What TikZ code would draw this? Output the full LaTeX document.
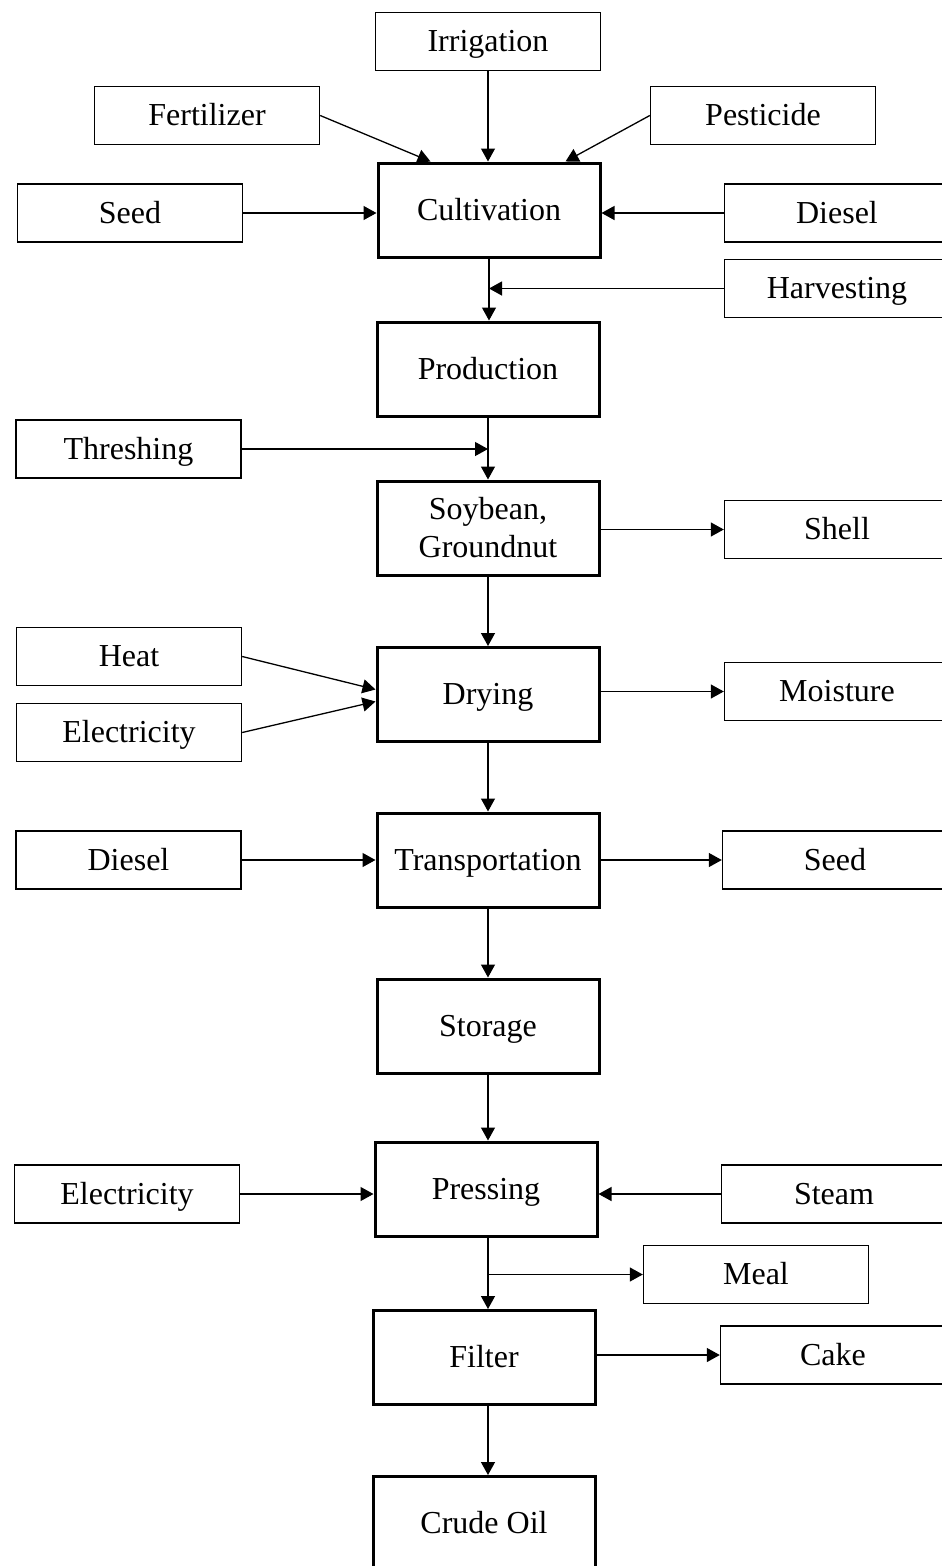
\documentclass[tikz,border=0pt]{standalone}
\usepackage{fontspec}
\setmainfont{Liberation Serif}
\usetikzlibrary{arrows.meta,calc}
\begin{document}
\begin{tikzpicture}[x=1pt,y=-1pt,
  every node/.style={font=\fontsize{32}{38}\selectfont},
  sidebox/.style={draw, line width=1.4pt, minimum width=225pt, minimum height=58pt, inner sep=0pt, text height=26pt, text depth=6pt},
  mainbox/.style={draw, line width=3pt, minimum width=222pt, minimum height=94pt, inner sep=0pt, align=center, text height=26pt, text depth=6pt},
  arr/.style={line width=1.3pt, -{Triangle[length=13pt,width=14pt]}}]
\useasboundingbox (0,0) rectangle (942,1566);
% main column
\node[mainbox] (cult) at (489,210) {Cultivation};
\node[mainbox] (prod) at (488,369) {Production};
\node[mainbox, text height=64pt, text depth=6pt] (soy) at (488,528) {Soybean,\\Groundnut};
\node[mainbox] (dry) at (488,694.5) {Drying};
\node[mainbox] (trans) at (488,860) {Transportation};
\node[mainbox] (stor) at (488,1026) {Storage};
\node[mainbox] (press) at (486,1189) {Pressing};
\node[mainbox] (filt) at (484,1357.5) {Filter};
\node[mainbox] (crude) at (484,1523.5) {Crude Oil};
% side boxes
\node[sidebox] (irr) at (488,41.5) {Irrigation};
\node[sidebox] (fert) at (207,115.5) {Fertilizer};
\node[sidebox] (pest) at (763,115.5) {Pesticide};
\node[sidebox] (seedA) at (130,213) {Seed};
\node[sidebox] (dieselA) at (837,213) {Diesel};
\node[sidebox] (harv) at (837,288.5) {Harvesting};
\node[sidebox] (thr) at (128.5,449) {Threshing};
\node[sidebox] (shell) at (837,529.5) {Shell};
\node[sidebox] (heat) at (129,656.5) {Heat};
\node[sidebox] (elecA) at (129,732.5) {Electricity};
\node[sidebox] (moist) at (837,691.5) {Moisture};
\node[sidebox] (dieselB) at (128.5,860) {Diesel};
\node[sidebox] (seedB) at (835,860) {Seed};
\node[sidebox] (elecB) at (127,1194) {Electricity};
\node[sidebox] (steam) at (834,1194) {Steam};
\node[sidebox] (meal) at (756,1274.5) {Meal};
\node[sidebox] (cake) at (833,1355) {Cake};
% inputs to cultivation
\draw[arr] (irr) -- (irr.south |- cult.north);
\draw[arr] (fert.east) -- ($(cult.north west)!0.24!(cult.north east)$);
\draw[arr] (pest.west) -- ($(cult.north west)!0.84!(cult.north east)$);
\draw[arr] (seedA.east) -- (cult.west |- seedA.east);
\draw[arr] (dieselA.west) -- (cult.east |- dieselA.west);
% main chain
\draw[arr] (cult.south) -- (cult.south |- prod.north);
\draw[arr] (harv.west) -- (cult.south |- harv.west);
\draw[arr] (prod.south) -- (soy.north);
\draw[arr] (thr.east) -- (prod.south |- thr.east);
\draw[arr] (soy.east |- shell.west) -- (shell.west);
\draw[arr] (soy.south) -- (dry.north);
\draw[arr] (heat.east) -- ($(dry.west)+(0,-5)$);
\draw[arr] (elecA.east) -- ($(dry.west)+(0,7)$);
\draw[arr] (dry.east |- moist.west) -- (moist.west);
\draw[arr] (dry.south) -- (trans.north);
\draw[arr] (dieselB.east) -- (trans.west |- dieselB.east);
\draw[arr] (trans.east |- seedB.west) -- (seedB.west);
\draw[arr] (trans.south) -- (stor.north);
\draw[arr] (stor.south) -- (stor.south |- press.north);
\draw[arr] (elecB.east) -- (press.west |- elecB.east);
\draw[arr] (steam.west) -- (press.east |- steam.west);
\draw[arr] (stor.south |- press.south) -- (stor.south |- filt.north);
\draw[arr] (stor.south |- meal.west) -- (meal.west);
\draw[arr] (filt.east |- cake.west) -- (cake.west);
\draw[arr] (stor.south |- filt.south) -- (stor.south |- crude.north);
\end{tikzpicture}
\end{document}
